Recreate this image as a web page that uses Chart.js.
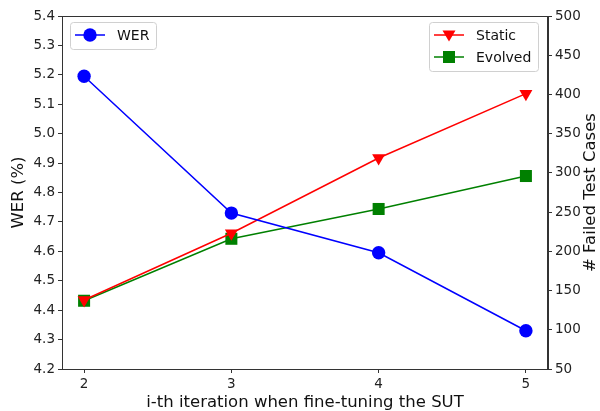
<!DOCTYPE html>
<html>
<head>
<meta charset="utf-8">
<script src="https://cdn.jsdelivr.net/npm/chart.js@4"></script>
<style>
  html, body { margin: 0; padding: 0; background: #fff; }
  #wrap { width: 600px; height: 411px; position: relative; }
</style>
</head>
<body>
<div id="wrap"><canvas id="c"></canvas></div>
<script>
// ============ DATA ============
const iterations = [2, 3, 4, 5];
const werValues = [5.195, 4.73, 4.595, 4.33];
const staticFailed = [138, 223, 319, 401];
const evolvedFailed = [137, 216, 254, 296];

const FONT = "'DejaVu Sans', sans-serif";
const pts = vals => iterations.map((x, i) => ({ x: x, y: vals[i] }));

// ============ LEGENDS + TITLES + TOP SPINE ============
function drawMarker(ctx, style, x, y) {
  ctx.fillStyle = style.color;
  ctx.strokeStyle = style.color;
  ctx.beginPath();
  if (style.shape === 'circle') {
    ctx.arc(x, y, 6.7, 0, Math.PI * 2);
  } else if (style.shape === 'tri') {
    ctx.moveTo(x - 6.5, y - 4.5); ctx.lineTo(x + 6.5, y - 4.5); ctx.lineTo(x, y + 6.5); ctx.closePath();
  } else {
    ctx.rect(x - 6, y - 6, 12, 12);
  }
  ctx.fill();
}

function legendBox(ctx, x, y, w, h, rows) {
  ctx.save();
  ctx.fillStyle = 'rgba(255,255,255,0.8)';
  ctx.strokeStyle = '#d0d0d0';
  ctx.lineWidth = 1;
  ctx.beginPath();
  ctx.roundRect(x + 0.5, y + 0.5, w, h, 3);
  ctx.fill(); ctx.stroke();
  rows.forEach((r, i) => {
    const ry = y + 13 + i * 22;
    ctx.strokeStyle = r.color; ctx.lineWidth = 1.5;
    ctx.beginPath(); ctx.moveTo(x + 5, ry); ctx.lineTo(x + 35, ry); ctx.stroke();
    drawMarker(ctx, r, x + 20, ry);
    ctx.fillStyle = '#111';
    ctx.font = '14px ' + FONT;
    ctx.textBaseline = 'middle';
    ctx.fillText(r.label, x + 47, ry + 1);
  });
  ctx.restore();
}

const extras = {
  id: 'extras',
  afterDraw(chart) {
    const ctx = chart.ctx, a = chart.chartArea;
    ctx.save();
    ctx.strokeStyle = '#333'; ctx.lineWidth = 1;
    ctx.strokeRect(a.left + 0.5, a.top + 0.5, a.right - a.left - 1, a.bottom - a.top);
    ctx.fillStyle = '#111';
    ctx.font = '16.5px ' + FONT;
    ctx.textAlign = 'center'; ctx.textBaseline = 'middle';
    ctx.fillText('i-th iteration when fine-tuning the SUT', (a.left + a.right) / 2, 403);
    ctx.translate(19, (a.top + a.bottom) / 2);
    ctx.rotate(-Math.PI / 2);
    ctx.fillText('WER (%)', 0, 0);
    ctx.restore();
    ctx.save();
    ctx.fillStyle = '#111';
    ctx.font = '16.5px ' + FONT;
    ctx.textAlign = 'center'; ctx.textBaseline = 'middle';
    ctx.translate(591, (a.top + a.bottom) / 2);
    ctx.rotate(-Math.PI / 2);
    ctx.fillText('# Failed Test Cases', 0, 0);
    ctx.restore();
    legendBox(ctx, 70, 22, 86, 27, [{ label: 'WER', color: '#0000ff', shape: 'circle' }]);
    legendBox(ctx, 429, 22, 109, 49, [
      { label: 'Static', color: '#ff0000', shape: 'tri' },
      { label: 'Evolved', color: '#008000', shape: 'sq' }
    ]);
  }
};

// ============ CHART ============
const tickFont = { family: FONT, size: 13.5 };
const axisBase = {
  grid: { display: true, drawOnChartArea: false, drawTicks: true, tickLength: 4, tickColor: '#333' },
  border: { display: true, color: '#333', width: 1 },
  ticks: { color: '#222', font: tickFont, padding: 3 }
};

new Chart(document.getElementById('c'), {
  type: 'line',
  data: {
    datasets: [
      { label: 'WER', data: pts(werValues), yAxisID: 'y', borderColor: '#0000ff', backgroundColor: '#0000ff',
        borderWidth: 1.5, pointStyle: 'circle', pointRadius: 6.7, pointBorderWidth: 0, tension: 0 },
      { label: 'Static', data: pts(staticFailed), yAxisID: 'y1', borderColor: '#ff0000', backgroundColor: '#ff0000',
        borderWidth: 1.5, pointStyle: 'triangle', rotation: 180, pointRadius: 7.5, pointBorderWidth: 0, tension: 0 },
      { label: 'Evolved', data: pts(evolvedFailed), yAxisID: 'y1', borderColor: '#008000', backgroundColor: '#008000',
        borderWidth: 1.5, pointStyle: 'rect', pointRadius: 8.5, pointBorderWidth: 0, tension: 0 }
    ]
  },
  options: {
    responsive: true,
    maintainAspectRatio: false,
    animation: false,
    layout: { padding: { top: 16, left: 0, right: 0, bottom: 0 } },
    plugins: { legend: { display: false }, tooltip: { enabled: false } },
    scales: {
      x: {
        ...axisBase, type: 'linear', min: 1.85, max: 5.15,
        afterBuildTicks: s => { s.ticks = iterations.map(v => ({ value: v })); },
        afterFit: s => { s.height = 42; },
        ticks: { ...axisBase.ticks, callback: v => String(v) }
      },
      y: {
        ...axisBase, position: 'left', min: 4.2, max: 5.4,
        afterFit: s => { s.width = 62; },
        ticks: { ...axisBase.ticks, stepSize: 0.1, callback: v => v.toFixed(1) }
      },
      y1: {
        ...axisBase, position: 'right', min: 50, max: 500,
        afterFit: s => { s.width = 52; },
        ticks: { ...axisBase.ticks, stepSize: 50 }
      }
    }
  },
  plugins: [extras]
});
</script>
</body>
</html>
